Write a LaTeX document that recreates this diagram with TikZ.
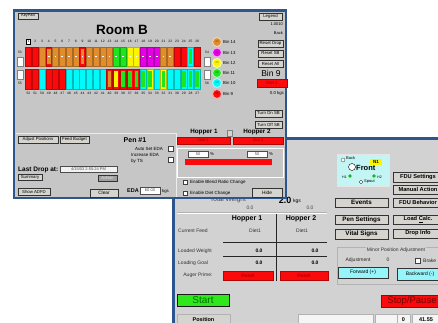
\documentclass[tikz,border=0pt]{standalone}
\usepackage{fontspec}
\setmainfont{Liberation Sans}
\newcommand\fsz[1]{\fontsize{#1}{#1}\selectfont}
\definecolor{winblue}{RGB}{44,86,140}
\definecolor{winone}{RGB}{198,198,198}
\definecolor{wintwo}{RGB}{210,210,210}
\definecolor{btngray}{RGB}{214,212,206}
\definecolor{br}{RGB}{250,10,10}
\definecolor{bo}{RGB}{225,140,45}
\definecolor{bg}{RGB}{30,230,30}
\definecolor{by}{RGB}{250,245,0}
\definecolor{bm}{RGB}{230,0,230}
\definecolor{bc}{RGB}{0,250,250}
\definecolor{lcyan}{RGB}{195,245,245}
\definecolor{bcyan}{RGB}{150,245,250}
\definecolor{dred}{RGB}{150,0,0}
\tikzset{
 wbtn/.style={draw=gray!40!black, fill=btngray, line width=0.4pt, inner sep=0pt, font=\fsz{4.3}},
 bbtn/.style={wbtn, font=\bfseries\fsz{6.3}},
 rbtn/.style={wbtn, font=\bfseries\fsz{5.7}},
 tbox/.style={draw=gray!60!black, fill=white, line width=0.3pt, inner sep=0pt, font=\fsz{4}, text=gray!60!black},
 lbl/.style={inner sep=0pt, font=\fsz{5}},
 chk/.style={draw=gray!50!black, fill=white, line width=0.3pt, inner sep=0pt, minimum size=4.5pt},
 redbar/.style={fill=br, draw=br!70!black, line width=0.3pt, inner sep=0pt, font=\fsz{4}, text=dred},
 cell/.style={draw=gray!60, fill=white!92!gray, line width=0.4pt, inner sep=0pt, font=\bfseries\fsz{5.5}},
 tiny/.style={font=\fsz{3.3}, inner sep=0pt},
}
\begin{document}
\begin{tikzpicture}[x=1pt,y=-1pt]
\useasboundingbox (0,0) rectangle (438,323);
\clip (0,0) rectangle (438,323);
\fill[white] (0,0) rectangle (438,323);

% ---------------- window 2 (back) ----------------
\fill[wintwo] (173,138) rectangle (442,326);
\draw[winblue, line width=2.8pt] (173.5,326) -- (173.5,138.5) -- (442,138.5);

\node[lbl, font=\fsz{6.5}, text=gray!55!black, anchor=base] (tw) at (228,201.5) {Total Weight};
\node[inner sep=0pt, font=\bfseries\fsz{9}, anchor=base] (twv) at (285,203) {2.0};
\node[lbl, anchor=base west] (twu) at (293,202) {kgs};
\node[lbl, text=gray!50!black] (w0a) at (250,207.5) {0.0};
\node[lbl, text=gray!50!black] (w0b) at (310,207.5) {0.0};
\draw[gray!60, line width=0.5pt] (177,212) -- (327,212);
\draw[white, line width=0.5pt] (177,212.8) -- (327,212.8);
\node[inner sep=0pt, font=\bfseries\fsz{7}] (h1b) at (247,218.5) {Hopper 1};
\node[inner sep=0pt, font=\bfseries\fsz{7}] (h2b) at (301,218.5) {Hopper 2};
\draw[gray!30!black, line width=0.5pt] (276,214) -- (276,281);
\node[lbl, anchor=west, text=gray!40!black] (cf) at (178,231) {Current Feed};
\node[lbl, text=gray!40!black] (cf1) at (255,231) {Diet1};
\node[lbl, text=gray!40!black] (cf2) at (302,231) {Diet1};
\draw[gray!30!black, line width=0.5pt] (223,242) -- (327,242);
\node[lbl, anchor=west, text=gray!40!black] (lw) at (178,251) {Loaded Weight};
\node[lbl, font=\bfseries\fsz{5}] (lw1) at (259,251) {0.0};
\node[lbl, font=\bfseries\fsz{5}] (lw2) at (315,251) {0.0};
\draw[gray!30!black, line width=0.5pt] (223,256) -- (327,256);
\node[lbl, anchor=west, text=gray!40!black] (lg) at (178,263) {Loading Goal};
\node[lbl, font=\bfseries\fsz{5}] (lg1) at (259,263) {0.0};
\node[lbl, font=\bfseries\fsz{5}] (lg2) at (315,263) {0.0};
\node[lbl, text=gray!40!black] (ap) at (198,275) {Auger Prime:};
\node[redbar, font=\fsz{5}, minimum width=50pt, minimum height=9pt] (rs1) at (248,276) {Reset};
\node[redbar, font=\fsz{5}, minimum width=48pt, minimum height=9pt] (rs2) at (304,276) {Reset};

% status box
\draw[fill=lcyan, draw=white!80!gray, line width=0.5pt] (337,154) rectangle (389,186);
\node[circle, draw=gray!40!black, fill=white, line width=0.3pt, minimum size=4pt, inner sep=0pt] (cbk) at (343,160) {};
\node[lbl, font=\fsz{4}, anchor=west] (tbk) at (346,158.5) {Back};
\node[fill=by, inner sep=0pt, minimum width=12pt, minimum height=6pt, font=\bfseries\fsz{4.5}] (n1) at (376,162) {N1};
\node[circle, draw=black, fill=white, line width=0.4pt, minimum size=7pt, inner sep=0pt] (cfr) at (352,167) {};
\node[inner sep=0pt, font=\bfseries\fsz{7.5}, anchor=west] (tfr) at (356,168) {Front};
\node[lbl, font=\fsz{3.6}, anchor=east] (th1) at (347,177) {H1};
\node[circle, fill=bg!80!black, minimum size=3.6pt, inner sep=0pt] (gh1) at (350,176) {};
\node[circle, fill=bg!80!black, minimum size=3.6pt, inner sep=0pt] (gh2) at (374,176) {};
\node[lbl, font=\fsz{3.6}, anchor=west] (th2) at (377,177) {H2};
\node[circle, draw=gray!40!black, fill=white, line width=0.3pt, minimum size=3.6pt, inner sep=0pt] (csp) at (361,182) {};
\node[lbl, font=\fsz{4}, anchor=west] (tsp) at (364,182) {Spout};

% button columns
\node[rbtn, minimum width=50pt, minimum height=9.5pt] (fdus) at (418,177) {FDU Settings};
\node[rbtn, minimum width=50pt, minimum height=9pt] (mact) at (418,189.5) {Manual Action};
\node[rbtn, minimum width=50pt, minimum height=9.5pt] (fdub) at (418,202.5) {FDU Behavior};
\node[rbtn, minimum width=50pt, minimum height=9.5pt] (ldc) at (418,219.5) {Load \underline{C}alc.};
\node[rbtn, minimum width=50pt, minimum height=9.5pt] (dri) at (418,233.5) {Drop Info};
\node[bbtn, minimum width=53pt, minimum height=9.5pt] (evt) at (361.5,202.5) {Events};
\node[bbtn, minimum width=53pt, minimum height=9.5pt] (pens) at (361.5,219.5) {Pen Settings};
\node[bbtn, minimum width=53pt, minimum height=9.5pt] (vits) at (361.5,234) {Vital Signs};

% minor position adjustment
\draw[gray!60, line width=0.5pt] (337,247) rectangle (445,284);
\node[lbl, fill=wintwo, inner sep=1pt, text=gray!40!black] (mpa) at (396,250) {Minor Position Adjustment};
\node[lbl, text=gray!30!black] (adj) at (358,260) {Adjustment};
\node[lbl, text=gray!30!black] (adj0) at (388,260) {0};
\node[chk] (brk) at (417.5,260.5) {};
\node[lbl, anchor=west, text=gray!30!black] (tbrk) at (423,260.5) {Brake};
\node[wbtn, fill=bcyan, font=\fsz{5}, minimum width=50pt, minimum height=11pt] (fwd) at (363,272.5) {Forward (+)};
\node[wbtn, fill=bcyan, font=\fsz{5}, minimum width=46pt, minimum height=12pt] (bwd) at (420,274) {Backward (-)};

% start/stop
\node[draw=gray!20!black, fill=bg!90!lime, line width=0.6pt, inner sep=0pt, minimum width=52pt, minimum height=12pt, font=\fsz{10}, text=green!45!black] (start) at (203,300) {Start};
\node[draw=br!60!black, fill=br, line width=0.5pt, inner sep=0pt, minimum width=62pt, minimum height=12pt, font=\fsz{9.5}, text=br!45!black] (stop) at (412,301) {Stop/Pause};

% bottom row
\node[cell, fill=btngray, minimum width=53pt, minimum height=11pt] (pos) at (203.5,320) {Position};
\node[cell, minimum width=75pt, minimum height=11pt] (c1) at (335.5,320) {};
\node[cell, minimum width=22pt, minimum height=11pt] (c2) at (386,320) {};
\node[cell, minimum width=13pt, minimum height=11pt] (c3) at (403.5,320) {0};
\node[cell, minimum width=28pt, minimum height=11pt] (c4) at (426,320) {41.55};

% ---------------- window 1 (front) ----------------
\draw[fill=winone, draw=winblue, line width=2.8pt] (14,10.5) rectangle (286,198);

\node[wbtn, font=\fsz{3.8}, minimum width=20pt, minimum height=6pt] (kp) at (28,16) {KeyPad};
\node[inner sep=0pt, font=\bfseries\fsz{13.5}] (title) at (122,30) {Room B};

% bins
\draw[fill=white, draw=black, line width=0.3pt] (26.4,38.9) rectangle (30.6,44.2);
\foreach \i/\f/\n/\d in {1/br/br/0,2/br/br/0,3/bo/bo/0,4/br/bo/1,5/bo/bo/1,6/bo/bo/1,7/bo/bo/1,8/bo/bo/1,9/br/bo/1,10/bo/bo/1,11/bo/bo/1,12/bo/bo/1,13/bo/bo/1,14/bg/bg/1,15/bg/bg/1,16/by/by/1,17/by/by/1,18/bm/bm/1,19/bm/bm/1,20/bm/bm/1,21/bo/bo/1,22/bo/bo/1,23/br/br/0,24/br/br/0,25/bc/bg/0,26/br/br/0}{
 \pgfmathsetmacro\bx{28.5+(\i-1)*6.75}
 \draw[fill=\f, draw=\f!75!black, line width=0.3pt] (\bx-2.9,47) rectangle (\bx+2.9,66);
 \fill[\n] (\bx-1.9,49) rectangle (\bx+1.9,64);
 \ifnum\d=1 \fill[white] (\bx-0.8,55.7) rectangle (\bx+0.8,57.3);\fi
 \node[tiny] (tn\i) at (\bx,41.5) {\i};
}
\foreach \i/\f/\n in {1/br/br,2/br/br,3/bc/bc,4/br/br,5/br/br,6/br/br,7/bc/bc,8/bc/bc,9/bc/bc,10/bc/bc,11/bc/bc,12/bc/bc,13/br/bo,14/br/by,15/br/bg,16/br/bg,17/br/bg,18/bc/bg,19/by/bg,20/bc/bc,21/by/bg,22/bc/bc,23/bc/bc,24/bc/bg,25/bc/bg,26/bc/bg}{
 \pgfmathsetmacro\bx{28.5+(\i-1)*6.75}
 \pgfmathtruncatemacro\lab{53-\i}
 \draw[fill=\f, draw=\f!75!black, line width=0.3pt] (\bx-2.9,69) rectangle (\bx+2.9,89);
 \fill[\n] (\bx-1.9,71) rectangle (\bx+1.9,87);
 \node[tiny] (bn\i) at (\bx,93) {\lab};
}
\node[tiny] (s53) at (20,52) {53};
\draw[fill=white, draw=gray, line width=0.3pt] (17,57) rectangle (23.5,66.5);
\draw[fill=white, draw=gray, line width=0.3pt] (17,70) rectangle (23.5,79);
\node[tiny] (s55) at (20,83) {55};
\node[tiny] (s54) at (207,52) {54};
\draw[fill=white, draw=gray, line width=0.3pt] (204,57) rectangle (210.5,66.5);
\draw[fill=white, draw=gray, line width=0.3pt] (204,70) rectangle (210.5,79);
\node[tiny] (s56) at (207,83) {56};

% bin circles
\foreach \y/\c/\t in {42/bo/14,52.5/bm/13,63/by/12,73/bg/11,83/bc/10,94/br/9}{
 \node[circle, fill=\c, draw=\c!35!white, line width=0.9pt, minimum size=9pt, inner sep=0pt, font=\fsz{2.8}, text=\c!45!black] (c\t) at (217,\y) {30};
 \node[inner sep=0pt, font=\fsz{4.3}, anchor=west] (l\t) at (223,\y) {Bin \t};
}

% right panel
\node[wbtn, minimum width=23pt, minimum height=7pt] (leg) at (270.5,16.5) {Legend};
\node[inner sep=0pt, font=\fsz{4}, anchor=east] (ver) at (283,24.5) {1.0010};
\node[inner sep=0pt, font=\fsz{4}, anchor=east] (bck) at (283,33.5) {Back};
\node[wbtn, minimum width=25pt, minimum height=7pt] (rd) at (270.5,43.5) {Reset Drop};
\node[wbtn, minimum width=25pt, minimum height=7pt] (rsb) at (270.5,53.5) {Reset SB};
\node[wbtn, minimum width=25pt, minimum height=7pt] (ra) at (270.5,63.5) {Reset All};
\node[inner sep=0pt, font=\fsz{8.5}] (b9) at (271,73) {Bin 9};
\node[redbar, font=\fsz{4.3}, minimum width=30pt, minimum height=8.5pt] (b9d) at (272,83) {Diet 1};
\node[inner sep=0pt, font=\fsz{4.3}, anchor=east] (b9k) at (284,93) {0.0 kgs};
\node[wbtn, minimum width=27pt, minimum height=7pt] (ton) at (268.5,113.5) {Turn On SB};
\node[wbtn, minimum width=27pt, minimum height=7pt] (toff) at (268.5,124.5) {Turn Off SB};

% separators
\draw[white!85!gray, line width=0.6pt] (15.5,133) -- (176,133) -- (176,196.5);

% hopper section (window 1)
\node[inner sep=0pt, font=\bfseries\fsz{6.3}] (h1a) at (204,132) {Hopper 1};
\node[inner sep=0pt, font=\bfseries\fsz{6.3}] (h2a) at (257,132) {Hopper 2};
\draw[fill=btngray, draw=gray, line width=0.3pt] (227.5,130.5) rectangle (232,136);
\node[redbar, minimum width=53pt, minimum height=7pt] (hb1) at (203.5,140.5) {Diet 1};
\node[redbar, minimum width=50pt, minimum height=7pt] (hb2) at (258,140.5) {Diet 1};
\draw[white, line width=0.5pt] (177,148) rectangle (283,177);
\node[tbox, minimum width=20pt, minimum height=6pt] (p1) at (198,154) {50};
\node[inner sep=0pt, font=\fsz{4.3}] (pc1) at (212,154) {\%};
\node[tbox, minimum width=20pt, minimum height=6pt] (p2) at (257,154) {50};
\node[inner sep=0pt, font=\fsz{4.3}] (pc2) at (271,154) {\%};
\fill[br] (185,158.5) rectangle (272,164.5);
\node[chk] (ck1) at (185,182) {};
\node[inner sep=0pt, font=\fsz{4.5}, anchor=west] (e1) at (190,182) {Enable Blend Ratio Change};
\node[chk] (ck2) at (185,193) {};
\node[inner sep=0pt, font=\fsz{4.5}, anchor=west] (e2) at (190,193) {Enable Diet Change};
\node[wbtn, font=\fsz{4.8}, minimum width=30pt, minimum height=8.5pt] (hide) at (267,192.5) {Hide};

% pen section
\node[wbtn, minimum width=40pt, minimum height=7pt] (adjp) at (38,139.5) {Adjust Positions};
\node[wbtn, minimum width=29pt, minimum height=7pt] (fb) at (74.5,139.5) {Feed Budget};
\node[inner sep=0pt, font=\bfseries\fsz{7}] (pen) at (135,140) {Pen \#1};
\node[inner sep=0pt, font=\fsz{4.5}, anchor=east] (ase) at (163,148.5) {Auto Set EDA};
\node[chk] (ck3) at (170.5,148.5) {};
\node[inner sep=0pt, font=\fsz{4.5}, anchor=west] (ie) at (131,155) {Increase EDA};
\node[inner sep=0pt, font=\fsz{4.5}, anchor=west] (ie2) at (131,161) {by TS};
\node[chk] (ck4) at (170.5,159.5) {};
\node[inner sep=0pt, font=\bfseries\fsz{6.5}, anchor=west] (ld) at (18,169.5) {Last Drop at:};
\node[tbox, fill=white!90!gray, minimum width=57pt, minimum height=6.5pt] (ldt) at (88.5,169) {4/15/03 2:55:24 PM};
\node[wbtn, minimum width=24pt, minimum height=6.5pt] (sum) at (30,177) {Summary};
\node[wbtn, fill=gray!75, text=gray!20, minimum width=19pt, minimum height=6pt] (adm) at (107.5,178) {Admin};
\node[wbtn, minimum width=32pt, minimum height=7pt] (sadfd) at (34,191.5) {Show ADFD};
\node[wbtn, font=\fsz{4.8}, minimum width=28pt, minimum height=8pt] (clr) at (104,193) {Clear};
\node[inner sep=0pt, font=\bfseries\fsz{5.5}] (eda) at (133,191) {EDA};
\node[tbox, minimum width=20pt, minimum height=7pt] (edav) at (150,190.5) {60.00};
\node[inner sep=0pt, font=\fsz{4.3}, anchor=west] (edak) at (162,191.5) {kgs};
\end{tikzpicture}
\end{document}
